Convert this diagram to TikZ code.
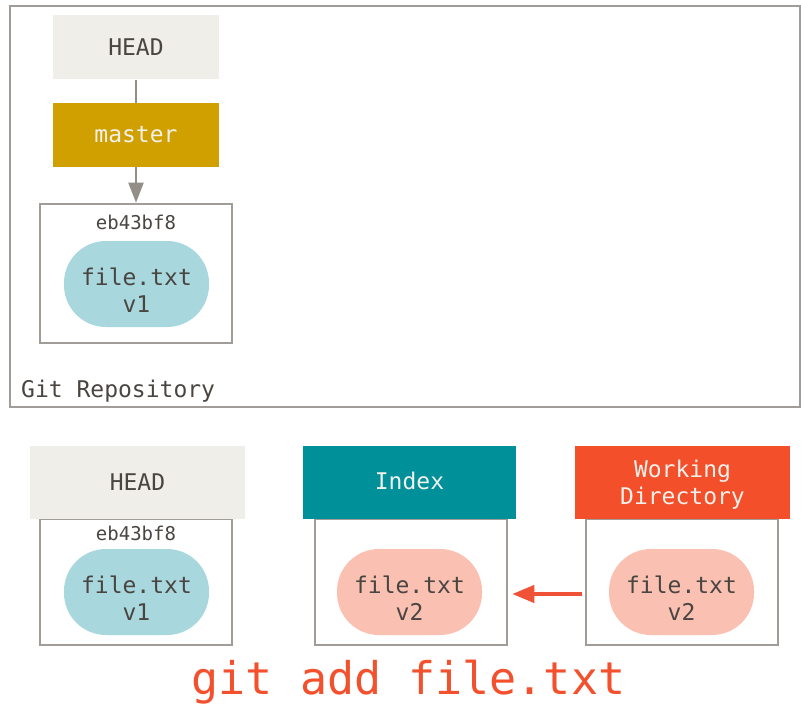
\documentclass[tikz,border=0pt]{standalone}
\usepackage{fontspec}
\setmainfont{DejaVu Sans Mono}
\setmonofont{DejaVu Sans Mono}
\usetikzlibrary{arrows.meta,calc}
\definecolor{framegray}{HTML}{A19C97}
\definecolor{headfill}{HTML}{EFEEE8}
\definecolor{masterfill}{HTML}{D0A000}
\definecolor{indexfill}{HTML}{00909A}
\definecolor{wdfill}{HTML}{F34F2B}
\definecolor{blueblob}{HTML}{A8D8DE}
\definecolor{pinkblob}{HTML}{FAC0B1}
\definecolor{darktext}{HTML}{4A4541}
\definecolor{lighttext}{HTML}{F2F0EA}
\definecolor{arrowred}{HTML}{EF5236}
\definecolor{cmdred}{HTML}{F3502D}
\definecolor{linegray}{HTML}{948E89}
\tikzset{
  txt/.style={font=\fontsize{23}{27}\selectfont, text=darktext, align=center, inner sep=0},
  refbox/.style={rectangle, minimum width=166, minimum height=64, inner sep=0, txt},
  commitframe/.style={rectangle, draw=framegray, line width=2.5pt, inner sep=0},
  blob/.style={rectangle, rounded corners=42pt, minimum width=145, minimum height=86, inner sep=0},
  hash/.style={font=\fontsize{19}{22}\selectfont, text=darktext, inner sep=0},
}
\begin{document}
\begin{tikzpicture}[x=1pt,y=-1pt]
\useasboundingbox (0,0) rectangle (801,706);
% repository frame
\node[rectangle, draw=framegray, line width=2pt, minimum width=790, minimum height=401, inner sep=0] (repo) at (405,206.5) {};
\node[txt, anchor=west] (repolabel) at (21,391) {Git Repository};
% top HEAD, master, commit
\node[refbox, fill=headfill] (thead) at (136,47.5) {HEAD};
\node[refbox, fill=masterfill, text=lighttext] (tmaster) at (136,135) {master};
\node[commitframe, minimum width=192, minimum height=139] (tcommit) at (136,273.5) {};
\node[hash] (thash) at (136,222) {eb43bf8};
\node[blob, fill=blueblob] (tblob) at (136.5,284) {};
\node[txt] (tblobtxt) at ($(tblob)+(0,6)$) {file.txt\\v1};
\draw[linegray, line width=2pt] (thead.south) -- (tmaster.north);
\draw[linegray, line width=2pt, -{Triangle[length=20pt,width=15pt]}] (tmaster.south) -- (tcommit.north);
% bottom: HEAD
\node[commitframe, minimum width=192, minimum height=126] (hframe) at (136,582) {};
\node[refbox, fill=headfill, minimum width=215, minimum height=73] (bhead) at (137.5,482.5) {HEAD};
\node[hash] (bhash) at (136,533) {eb43bf8};
\node[blob, fill=blueblob] (hblob) at (136.5,592) {};
\node[txt] (hblobtxt) at ($(hblob)+(0,6)$) {file.txt\\v1};
% Index
\node[commitframe, minimum width=192, minimum height=126] (iframe) at (411,582) {};
\node[rectangle, fill=indexfill, minimum width=213, minimum height=73, inner sep=0] (bindex) at (409.5,482.5) {};
\node[txt, text=lighttext] (bindextxt) at ($(bindex)+(0,-2)$) {Index};
\node[blob, fill=pinkblob] (iblob) at (409.5,592) {};
\node[txt] (iblobtxt) at ($(iblob)+(0,6)$) {file.txt\\v2};
% Working Directory
\node[commitframe, minimum width=192, minimum height=126] (wframe) at (682,582) {};
\node[rectangle, fill=wdfill, minimum width=215, minimum height=73, inner sep=0] (bwd) at (682.5,482.5) {};
\node[txt, text=lighttext] (bwdtxt) at ($(bwd)+(0,2)$) {Working\\Directory};
\node[blob, fill=pinkblob] (wblob) at (681.5,592) {};
\node[txt] (wblobtxt) at ($(wblob)+(0,6)$) {file.txt\\v2};
% red arrow
\draw[arrowred, line width=4pt, -{Triangle[length=22pt,width=17pt]}] ($(wframe.west)+(-3,12)$) -- ($(iframe.east)+(4,12)$);
% command
\node[font=\fontsize{45}{50}\selectfont, text=cmdred, anchor=base, inner sep=0] (cmd) at (408.5,694) {git add file.txt};
\end{tikzpicture}
\end{document}
